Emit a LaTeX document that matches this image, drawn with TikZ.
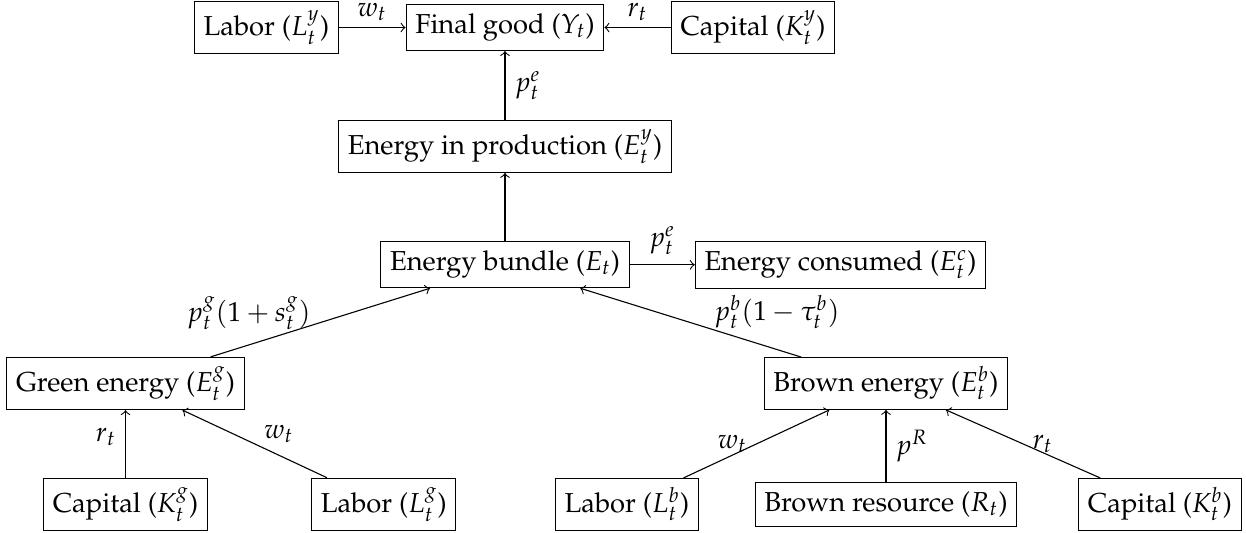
\documentclass[tikz,border=0pt]{standalone}
\usepackage[T1]{fontenc}
\usepackage{mathpazo}
\begin{document}
\begin{tikzpicture}[x=0.365pt,y=0.365pt,
  box/.style={draw, rectangle, line width=0.4pt},
  conn/.style={->, line width=0.4pt}]
\useasboundingbox (0,0) rectangle (1246,-533);
% top row
\node[box] (Ly) at (266.4,-27.5) {Labor ($L_t^y$)};
\node[box] (Y)  at (505,-27.5)   {Final good ($Y_t$)};
\node[box] (Ky) at (753,-27.5)   {Capital ($K_t^y$)};
% middle
\node[box] (Ey) at (505,-146.3)  {Energy in production ($E_t^y$)};
\node[box] (E)  at (505,-264.8)  {Energy bundle ($E_t$)};
\node[box] (Ec) at (840.5,-264.8) {Energy consumed ($E_t^c$)};
% sources
\node[box] (Eg) at (125.5,-383.5) {Green energy ($E_t^g$)};
\node[box] (Eb) at (886,-383.5)   {Brown energy ($E_t^b$)};
% bottom row
\node[box] (Kg) at (125.5,-504.3) {Capital ($K_t^g$)};
\node[box] (Lg) at (383.8,-504.3) {Labor ($L_t^g$)};
\node[box] (Lb) at (627,-504.3)   {Labor ($L_t^b$)};
\node[box] (R)  at (886,-504.3)   {Brown resource ($R_t$)};
\node[box] (Kb) at (1160,-504.3)  {Capital ($K_t^b$)};
% connectors
\draw[conn] (Ly) -- node[above, yshift=-1.2pt] {$w_t$} (Y);
\draw[conn] (Ky) -- node[above, yshift=-1.2pt] {$r_t$} (Y);
\draw[conn] (Ey) -- node[right] {$p_t^e$} (Y);
\draw[conn] (E) -- (Ey);
\draw[conn] (E) -- node[above] {$p_t^e$} (Ec);
\draw[conn] (Eg) -- node[left, yshift=3.5pt] {$p_t^g(1+s_t^g)$} (E);
\draw[conn] (Eb) -- node[right, xshift=5pt, yshift=4pt] {$p_t^b(1-\tau_t^b)$} (E);
\draw[conn] (Kg) -- node[left, yshift=2.5pt] {$r_t$} (Eg);
\draw[conn] (Lg) -- node[right, yshift=3.5pt] {$w_t$} (Eg);
\draw[conn] (Lb) -- node[left] {$w_t$} (Eb);
\draw[conn] (R) -- node[right] {$p^R$} (Eb);
\draw[conn] (Kb) -- node[right] {$r_t$} (Eb);
\end{tikzpicture}
\end{document}
